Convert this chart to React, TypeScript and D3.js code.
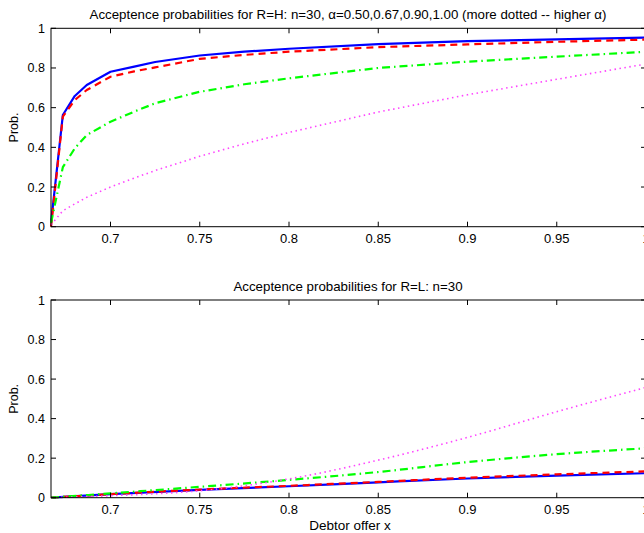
import React from "react";
import * as d3 from "d3";

const topX = [0.6667, 0.6733, 0.68, 0.6867, 0.7, 0.7133, 0.725, 0.75, 0.775, 0.8, 0.85, 0.9, 0.95, 1.0];
const topBlue = [0.02, 0.563, 0.659, 0.714, 0.781, 0.807, 0.83, 0.863, 0.882, 0.897, 0.92, 0.935, 0.944, 0.953];
const topRed = [0.0, 0.555, 0.638, 0.689, 0.756, 0.783, 0.803, 0.846, 0.866, 0.882, 0.905, 0.919, 0.932, 0.943];
const topGreen = [0.02, 0.3, 0.395, 0.462, 0.529, 0.58, 0.622, 0.68, 0.718, 0.748, 0.8, 0.832, 0.857, 0.882];
const topMagenta = [0.01, 0.08, 0.115, 0.148, 0.2, 0.245, 0.283, 0.355, 0.418, 0.475, 0.578, 0.665, 0.743, 0.82];

const botX = [0.6667, 0.7, 0.75, 0.8, 0.85, 0.9, 0.95, 1.0];
const botBlue = [0.0, 0.018, 0.04, 0.058, 0.078, 0.097, 0.112, 0.124];
const botRed = [0.0, 0.018, 0.041, 0.06, 0.08, 0.101, 0.118, 0.133];
const botGreen = [0.0, 0.022, 0.055, 0.09, 0.13, 0.18, 0.22, 0.25];
const botMagenta = [0.0, 0.01, 0.035, 0.095, 0.19, 0.305, 0.435, 0.558];

const xTicks = [0.7, 0.75, 0.8, 0.85, 0.9, 0.95, 1];
const yTicks = [0, 0.2, 0.4, 0.6, 0.8, 1];

const topTitle = "Acceptence probabilities for R=H: n=30, \u03b1=0.50,0.67,0.90,1.00 (more dotted -- higher \u03b1)";
const botTitle = "Acceptence probabilities for R=L: n=30";
const xLabel = "Debtor offer x";
const yLabel = "Prob.";

const W = 644;
const H = 533;
const FONT = "'Liberation Sans', Arial, Helvetica, sans-serif";

const styles = [
  { color: "#0000ff", width: 2.2, dash: "none" },
  { color: "#ff0000", width: 2.2, dash: "7,5" },
  { color: "#00ff00", width: 2.2, dash: "8,4,1.5,4" },
  { color: "#ff44ff", width: 1.6, dash: "1.5,3.5" },
];

function Panel({ top, bottom, xs, series, title, showXLabel, smooth }: any) {
  const x = d3.scaleLinear().domain([2 / 3, 1]).range([51, 646]);
  const y = d3.scaleLinear().domain([0, 1]).range([bottom, top]);
  const line = d3
    .line<number>()
    .x((_, i) => x(xs[i]))
    .y((d) => y(d))
    .curve(smooth ? d3.curveMonotoneX : d3.curveLinear);
  const tl = 5;
  return (
    <g>
      <text x={348} y={top - 9.5} textAnchor="middle" fontSize={13.3} fontFamily={FONT}>
        {title}
      </text>
      {series.map((s: number[], i: number) => (
        <path
          key={i}
          d={line(s) || ""}
          fill="none"
          stroke={styles[i].color}
          strokeWidth={styles[i].width}
          strokeDasharray={styles[i].dash}
          strokeLinejoin="round"
        />
      ))}
      <rect x={x(2 / 3)} y={top} width={x(1) - x(2 / 3)} height={bottom - top} fill="none" stroke="#000" strokeWidth={1} />
      {xTicks.map((t) => (
        <g key={"x" + t}>
          <line x1={x(t)} x2={x(t)} y1={bottom} y2={bottom - tl} stroke="#000" />
          <line x1={x(t)} x2={x(t)} y1={top} y2={top + tl} stroke="#000" />
          <text x={x(t)} y={bottom + 16.6} textAnchor="middle" fontSize={13} fontFamily={FONT}>
            {String(t)}
          </text>
        </g>
      ))}
      {yTicks.map((t) => (
        <g key={"y" + t}>
          <line x1={51} x2={51 + tl} y1={y(t)} y2={y(t)} stroke="#000" />
          <line x1={646} x2={646 - tl} y1={y(t)} y2={y(t)} stroke="#000" />
          <text x={45} y={y(t) + 4.5} textAnchor="end" fontSize={12.5} fontFamily={FONT}>
            {String(t)}
          </text>
        </g>
      ))}
      <text
        transform={`translate(18, ${(top + bottom) / 2}) rotate(-90)`}
        textAnchor="middle"
        fontSize={12.5}
        fontFamily={FONT}
      >
        {yLabel}
      </text>
      {showXLabel && (
        <text x={350} y={bottom + 32} textAnchor="middle" fontSize={13.5} fontFamily={FONT}>
          {xLabel}
        </text>
      )}
    </g>
  );
}

export default function App() {
  React.useEffect(() => {
    document.body.style.margin = "0";
    document.body.style.overflow = "hidden";
  }, []);
  return (
    <svg
      width={W}
      height={H}
      viewBox={`0 0 ${W} ${H}`}
      style={{ position: "absolute", left: 0, top: 0, background: "#fff" }}
    >
      <rect x={0} y={0} width={W} height={H} fill="#fff" />
      <Panel
        top={28.3}
        bottom={226.7}
        xs={topX}
        series={[topBlue, topRed, topGreen, topMagenta]}
        title={topTitle}
        showXLabel={false}
        smooth={false}
      />
      <Panel
        top={300}
        bottom={497.7}
        xs={botX}
        series={[botBlue, botRed, botGreen, botMagenta]}
        title={botTitle}
        showXLabel={true}
        smooth={true}
      />
    </svg>
  );
}
